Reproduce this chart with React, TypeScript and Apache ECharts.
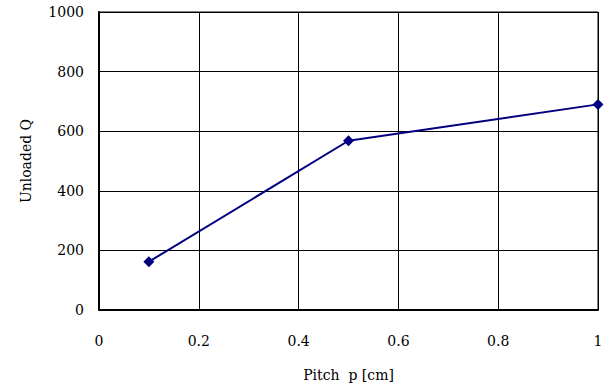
import React, { useEffect, useRef } from "react";
import * as echarts from "echarts";

const pitch = [0.1, 0.5, 1.0];
const unloadedQ = [162, 568, 690];
const xTicks = [0, 0.2, 0.4, 0.6, 0.8, 1];
const yTicks = [0, 200, 400, 600, 800, 1000];

export default function App() {
  const ref = useRef<HTMLDivElement>(null);
  useEffect(() => {
    if (!ref.current) return;
    const chart = echarts.init(ref.current, null, { renderer: "svg" });
    const font = "DejaVu Serif";
    chart.setOption({
      animation: false,
      backgroundColor: "#ffffff",
      textStyle: { fontFamily: font },
      grid: {
        left: 99,
        right: 14,
        top: 12,
        bottom: 80,
        show: true,
        borderColor: "#000000",
        borderWidth: 1,
        backgroundColor: "transparent",
        containLabel: false,
        outerBoundsMode: "none",
      },
      xAxis: {
        type: "value",
        min: xTicks[0],
        max: xTicks[xTicks.length - 1],
        interval: 0.2,
        name: "Pitch  p [cm]",
        nameLocation: "middle",
        nameGap: 58,
        nameTextStyle: { fontFamily: font, fontSize: 14, color: "#000" },
        axisLine: { show: true, lineStyle: { color: "#000", width: 2 } },
        axisTick: { show: false },
        splitLine: { show: true, lineStyle: { color: "#000", width: 1 } },
        axisLabel: {
          fontFamily: font,
          fontSize: 14,
          color: "#000",
          margin: 24,
          formatter: (v: number) => String(Math.round(v * 10) / 10),
        },
      },
      yAxis: {
        type: "value",
        min: yTicks[0],
        max: yTicks[yTicks.length - 1],
        interval: 200,
        name: "Unloaded Q",
        nameLocation: "middle",
        nameGap: 66,
        nameRotate: 90,
        nameTextStyle: { fontFamily: font, fontSize: 14, color: "#000" },
        axisLine: { show: true, lineStyle: { color: "#000", width: 2 } },
        axisTick: { show: false },
        splitLine: { show: true, lineStyle: { color: "#000", width: 1 } },
        axisLabel: {
          fontFamily: font,
          fontSize: 14,
          color: "#000",
          margin: 15,
          formatter: (v: number) => String(v),
        },
      },
      series: [
        {
          type: "line",
          data: pitch.map((p, i) => [p, unloadedQ[i]]),
          symbol: "diamond",
          symbolSize: 11,
          lineStyle: { color: "#000080", width: 2 },
          itemStyle: { color: "#000080" },
        },
      ],
    });
    return () => chart.dispose();
  }, []);
  return <div ref={ref} style={{ width: 612, height: 390, position: "absolute", left: 0, top: 0 }} />;
}
